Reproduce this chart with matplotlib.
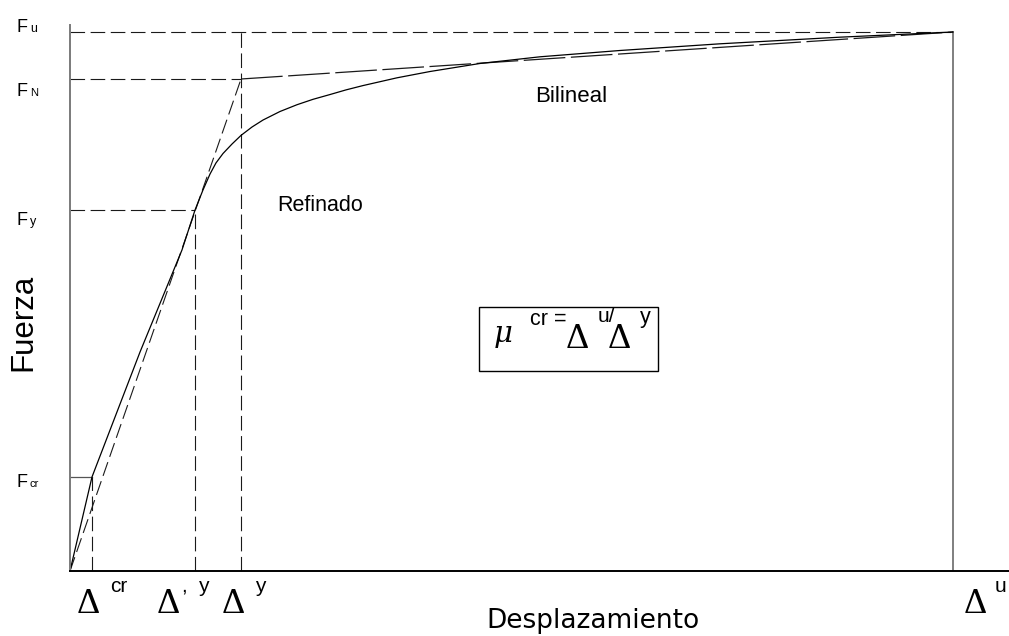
import matplotlib
matplotlib.use("Agg")
import matplotlib.pyplot as plt
from matplotlib.patches import Rectangle

plt.rcParams['font.family'] = ['Liberation Sans', 'DejaVu Sans']
plt.rcParams['lines.scale_dashes'] = False

# Characteristic points (displacement as % of ultimate, force as % of ultimate)
d_cr, d_y_ref, d_y, d_u = 2.49, 14.16, 19.37, 100.0
F_cr, F_y, F_N, F_u = 17.44, 66.98, 91.28, 100.0

# Refined capacity curve
refined_disp = [0.0, 2.49, 7.93, 12.68, 14.16, 15.06, 15.86, 16.53, 17.33, 18.35,
                19.37, 20.61, 21.86, 23.78, 25.71, 27.52, 29.45, 31.26, 33.18,
                35.11, 37.03, 40.77, 46.43, 53.23, 62.29, 73.61, 87.20, 100.0]
refined_force = [0.0, 17.44, 40.63, 59.55, 66.98, 70.69, 73.66, 75.70, 77.46, 79.22,
                 80.82, 82.37, 83.67, 85.25, 86.51, 87.51, 88.40, 89.26, 90.06,
                 90.78, 91.50, 92.67, 94.16, 95.40, 96.57, 97.81, 99.04, 100.0]

# Bilinear idealisation
bilin_elastic_disp = [0.0, d_y]
bilin_elastic_force = [0.0, F_N]
bilin_plastic_disp = [d_y, d_u]
bilin_plastic_force = [F_N, F_u]

W, H = 1009, 636
fig = plt.figure(figsize=(W / 100, H / 100), dpi=100)
ax = fig.add_axes([70 / W, (H - 571) / H, (W - 70) / W, (571 - 25) / H])
ax.set_xlim(0, 939 / 883 * 100)
ax.set_ylim(0, 546 / 539 * 100)
for s in ('top', 'right'):
    ax.spines[s].set_visible(False)
ax.spines['left'].set_color('#7a7a7a')
ax.spines['left'].set_linewidth(1.4)
ax.spines['bottom'].set_color('black')
ax.spines['bottom'].set_linewidth(1.4)
ax.set_xticks([])
ax.set_yticks([])

dash = (0, (10.5, 4.0))
long_dash = (0, (30, 4.0))
gc = '#1a1a1a'

# Guide lines
ax.plot([0, d_u], [F_u, F_u], color=gc, lw=0.8, ls=dash)
ax.plot([0, d_y], [F_N, F_N], color=gc, lw=0.8, ls=dash)
ax.plot([0, d_y_ref], [F_y, F_y], color=gc, lw=0.8, ls=dash)
ax.plot([0, d_cr], [F_cr, F_cr], color='#555555', lw=0.9)
ax.plot([d_cr, d_cr], [0, F_cr], color=gc, lw=0.8, ls=dash)
ax.plot([d_y_ref, d_y_ref], [0, F_y], color=gc, lw=0.8, ls=dash)
ax.plot([d_y, d_y], [0, F_u], color=gc, lw=0.8, ls=dash)
ax.plot([d_u, d_u], [0, F_u], color='#6a6a6a', lw=1.2)

# Curves
ax.plot(bilin_elastic_disp, bilin_elastic_force, color=gc, lw=0.8, ls=dash)
ax.plot(bilin_plastic_disp, bilin_plastic_force, color=gc, lw=0.9, ls=long_dash)
ax.plot(refined_disp, refined_force, color='black', lw=0.9,
        solid_joinstyle='round')


def P(x, y):
    return x / W, 1 - y / H


def txt(x, y, s, size, **kw):
    kw.setdefault('ha', 'left')
    kw.setdefault('va', 'baseline')
    fig.text(*P(x, y), s, fontsize=size, **kw)


# Force labels
txt(17, 32, 'F', 13)
txt(30, 32, 'u', 9)
txt(17, 96, 'F', 13)
txt(30, 96, 'N', 8)
txt(17, 225, 'F', 13)
txt(30, 225, 'y', 9)
txt(17, 487, 'F', 13)
txt(30, 487, 'cr', 8)

# Displacement labels
delta_font = dict(family='Liberation Serif')
dsz = 26
txt(77, 613, '\u0394', dsz, **delta_font)
txt(110, 592, 'cr', 15)
txt(157, 613, '\u0394', dsz, **delta_font)
txt(182, 592, ',  y', 15)
txt(222, 613, '\u0394', dsz, **delta_font)
txt(255, 592, 'y', 15)
txt(964, 613, '\u0394', dsz, **delta_font)
txt(995, 592, 'u', 15)

# Axis titles
txt(593, 628, 'Desplazamiento', 19, ha='center', family='DejaVu Sans')
fig.text(*P(23, 322), 'Fuerza', fontsize=22.5, rotation=90, ha='center', va='center')

# Curve names
txt(535, 102, 'Bilineal', 16)
txt(277, 211, 'Refinado', 15.5)

# Ductility box
fig.patches.append(Rectangle(P(479, 371), (658 - 479) / W, (371 - 307) / H,
                             transform=fig.transFigure, fill=False,
                             edgecolor='black', lw=1.0))
txt(494, 342, '\u03bc', 21, family='DejaVu Serif', style='italic')
txt(530, 325, 'cr =', 15.5)
txt(566, 348, '\u0394', dsz, **delta_font)
txt(598, 322, 'u/', 15)
txt(608, 348, '\u0394', dsz, **delta_font)
txt(640, 323, 'y', 15.5)

fig.savefig('out.png', dpi=100)
